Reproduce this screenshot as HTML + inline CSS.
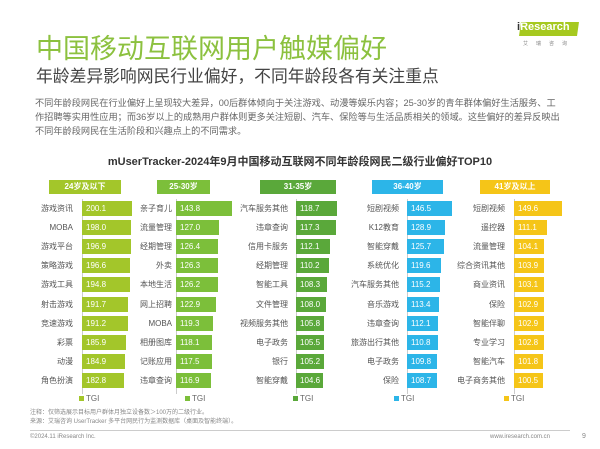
<!DOCTYPE html><html><head><meta charset="utf-8"><style>
*{margin:0;padding:0;box-sizing:border-box}
body{width:600px;height:449px;background:#fff;position:relative;overflow:hidden;font-family:"Liberation Sans","Noto Sans CJK SC",sans-serif;color:#555}
.a{position:absolute;white-space:nowrap}
.h{position:absolute;height:14px;color:#fff;font-size:8px;font-weight:bold;text-align:center;line-height:14px}
.l{position:absolute;font-size:8px;color:#555;text-align:right;width:70px;line-height:15px}
.b{position:absolute;height:15px;color:#fff;font-size:8px;line-height:15px;padding-left:4px;overflow:hidden}
.v{position:absolute;width:1px;background:#ccc}
.g{position:absolute;font-size:8px;color:#666}
.g i{display:inline-block;width:5px;height:5px;margin-right:2px;vertical-align:middle}
.c1 .b{left:82px;background:#a3c62a}.c1 .l{left:3px}
.c2 .b{left:176px;background:#7cbf3a}.c2 .l{left:102px}
.c3 .b{left:296px;background:#5aa83a}.c3 .l{left:218px}
.c4 .b{left:407px;background:#2cb5e8}.c4 .l{left:329px}
.c5 .b{left:514px;background:#f5c518}.c5 .l{left:435px}
</style></head><body>
<div class="a" style="left:36px;top:27px;font-size:27px;color:#8cc13f">中国移动互联网用户触媒偏好</div>
<div class="a" style="left:36px;top:63px;font-size:16.8px;color:#444">年龄差异影响网民行业偏好，不同年龄段各有关注重点</div>
<div class="a" style="left:35px;top:96px;font-size:9.2px;line-height:14px;color:#666">不同年龄段网民在行业偏好上呈现较大差异，00后群体倾向于关注游戏、动漫等娱乐内容；25-30岁的青年群体偏好生活服务、工<br>作招聘等实用性应用；而36岁以上的成熟用户群体则更多关注短剧、汽车、保险等与生活品质相关的领域。这些偏好的差异反映出<br>不同年龄段网民在生活阶段和兴趣点上的不同需求。</div>
<div class="a" style="left:520px;top:22px;width:58px;height:14px;background:#a6c91f;transform:skewX(-8deg)"></div>
<div class="a" style="left:517px;top:21px;font-size:11px;color:#fff;font-weight:bold"><span style="color:#333">i</span>Research</div>
<div class="a" style="left:523px;top:40px;font-size:5px;color:#888;letter-spacing:8px">艾瑞咨询</div>
<div class="a" style="left:0;width:600px;top:153px;text-align:center;font-size:11px;font-weight:bold;color:#333">mUserTracker-2024年9月中国移动互联网不同年龄段网民二级行业偏好TOP10</div>

<div class="h" style="left:49px;top:180px;width:72px;background:#a3c62a">24岁及以下</div>
<div class="h" style="left:157px;top:180px;width:53px;background:#7cbf3a">25-30岁</div>
<div class="h" style="left:260px;top:180px;width:76px;background:#5aa83a">31-35岁</div>
<div class="h" style="left:372px;top:180px;width:71px;background:#2cb5e8">36-40岁</div>
<div class="h" style="left:480px;top:180px;width:70px;background:#f5c518">41岁及以上</div>

<div class="v" style="left:82px;top:199px;height:195px"></div>
<div class="v" style="left:176px;top:199px;height:195px"></div>
<div class="v" style="left:296px;top:199px;height:195px"></div>
<div class="v" style="left:407px;top:199px;height:195px"></div>
<div class="v" style="left:514px;top:199px;height:195px"></div>

<div class="c1">
<div class="l" style="top:201px">游戏资讯</div><div class="b" style="top:201px;width:50px">200.1</div>
<div class="l" style="top:220px">MOBA</div><div class="b" style="top:220px;width:49px">198.0</div>
<div class="l" style="top:239px">游戏平台</div><div class="b" style="top:239px;width:48.5px">196.9</div>
<div class="l" style="top:258px">策略游戏</div><div class="b" style="top:258px;width:48px">196.6</div>
<div class="l" style="top:277px">游戏工具</div><div class="b" style="top:277px;width:47.5px">194.8</div>
<div class="l" style="top:297px">射击游戏</div><div class="b" style="top:297px;width:46px">191.7</div>
<div class="l" style="top:316px">竞速游戏</div><div class="b" style="top:316px;width:46px">191.2</div>
<div class="l" style="top:335px">彩票</div><div class="b" style="top:335px;width:43.5px">185.9</div>
<div class="l" style="top:354px">动漫</div><div class="b" style="top:354px;width:43px">184.9</div>
<div class="l" style="top:373px">角色扮演</div><div class="b" style="top:373px;width:42px">182.8</div>
</div>
<div class="c2">
<div class="l" style="top:201px">亲子育儿</div><div class="b" style="top:201px;width:56px">143.8</div>
<div class="l" style="top:220px">流量管理</div><div class="b" style="top:220px;width:43px">127.0</div>
<div class="l" style="top:239px">经期管理</div><div class="b" style="top:239px;width:42.4px">126.4</div>
<div class="l" style="top:258px">外卖</div><div class="b" style="top:258px;width:42.3px">126.3</div>
<div class="l" style="top:277px">本地生活</div><div class="b" style="top:277px;width:42.2px">126.2</div>
<div class="l" style="top:297px">网上招聘</div><div class="b" style="top:297px;width:39.7px">122.9</div>
<div class="l" style="top:316px">MOBA</div><div class="b" style="top:316px;width:37px">119.3</div>
<div class="l" style="top:335px">相册图库</div><div class="b" style="top:335px;width:36px">118.1</div>
<div class="l" style="top:354px">记账应用</div><div class="b" style="top:354px;width:35.5px">117.5</div>
<div class="l" style="top:373px">违章查询</div><div class="b" style="top:373px;width:35px">116.9</div>
</div>
<div class="c3">
<div class="l" style="top:201px">汽车服务其他</div><div class="b" style="top:201px;width:41px">118.7</div>
<div class="l" style="top:220px">违章查询</div><div class="b" style="top:220px;width:39.6px">117.3</div>
<div class="l" style="top:239px">信用卡服务</div><div class="b" style="top:239px;width:34.4px">112.1</div>
<div class="l" style="top:258px">经期管理</div><div class="b" style="top:258px;width:32.6px">110.2</div>
<div class="l" style="top:277px">智能工具</div><div class="b" style="top:277px;width:30.7px">108.3</div>
<div class="l" style="top:297px">文件管理</div><div class="b" style="top:297px;width:30.4px">108.0</div>
<div class="l" style="top:316px">视频服务其他</div><div class="b" style="top:316px;width:28.2px">105.8</div>
<div class="l" style="top:335px">电子政务</div><div class="b" style="top:335px;width:27.9px">105.5</div>
<div class="l" style="top:354px">银行</div><div class="b" style="top:354px;width:27.6px">105.2</div>
<div class="l" style="top:373px">智能穿戴</div><div class="b" style="top:373px;width:27px">104.6</div>
</div>
<div class="c4">
<div class="l" style="top:201px">短剧视频</div><div class="b" style="top:201px;width:45px">146.5</div>
<div class="l" style="top:220px">K12教育</div><div class="b" style="top:220px;width:38px">128.9</div>
<div class="l" style="top:239px">智能穿戴</div><div class="b" style="top:239px;width:36.7px">125.7</div>
<div class="l" style="top:258px">系统优化</div><div class="b" style="top:258px;width:34.3px">119.6</div>
<div class="l" style="top:277px">汽车服务其他</div><div class="b" style="top:277px;width:32.5px">115.2</div>
<div class="l" style="top:297px">音乐游戏</div><div class="b" style="top:297px;width:31.8px">113.4</div>
<div class="l" style="top:316px">违章查询</div><div class="b" style="top:316px;width:31.3px">112.1</div>
<div class="l" style="top:335px">旅游出行其他</div><div class="b" style="top:335px;width:30.8px">110.8</div>
<div class="l" style="top:354px">电子政务</div><div class="b" style="top:354px;width:30.4px">109.8</div>
<div class="l" style="top:373px">保险</div><div class="b" style="top:373px;width:30px">108.7</div>
</div>
<div class="c5">
<div class="l" style="top:201px">短剧视频</div><div class="b" style="top:201px;width:48px">149.6</div>
<div class="l" style="top:220px">遥控器</div><div class="b" style="top:220px;width:33px">111.1</div>
<div class="l" style="top:239px">流量管理</div><div class="b" style="top:239px;width:30.3px">104.1</div>
<div class="l" style="top:258px">综合资讯其他</div><div class="b" style="top:258px;width:30.2px">103.9</div>
<div class="l" style="top:277px">商业资讯</div><div class="b" style="top:277px;width:29.9px">103.1</div>
<div class="l" style="top:297px">保险</div><div class="b" style="top:297px;width:29.8px">102.9</div>
<div class="l" style="top:316px">智能伴聊</div><div class="b" style="top:316px;width:29.8px">102.9</div>
<div class="l" style="top:335px">专业学习</div><div class="b" style="top:335px;width:29.8px">102.8</div>
<div class="l" style="top:354px">智能汽车</div><div class="b" style="top:354px;width:29.4px">101.8</div>
<div class="l" style="top:373px">电子商务其他</div><div class="b" style="top:373px;width:29px">100.5</div>
</div>

<div class="g" style="left:79px;top:394px"><i style="background:#a3c62a"></i>TGI</div>
<div class="g" style="left:185px;top:394px"><i style="background:#7cbf3a"></i>TGI</div>
<div class="g" style="left:293px;top:394px"><i style="background:#5aa83a"></i>TGI</div>
<div class="g" style="left:394px;top:394px"><i style="background:#2cb5e8"></i>TGI</div>
<div class="g" style="left:504px;top:394px"><i style="background:#f5c518"></i>TGI</div>

<div class="a" style="left:30px;top:409px;font-size:6px;line-height:9px;color:#888">注释：仅筛选展示目标用户群体月独立设备数＞100万的二级行业。<br>来源：艾瑞咨询 UserTracker 多平台网民行为监测数据库（桌面及智能终端）。</div>
<div class="a" style="left:30px;top:430px;width:540px;height:1px;background:#ccc"></div>
<div class="a" style="left:30px;top:434px;font-size:6px;color:#888">©2024.11 iResearch Inc.</div>
<div class="a" style="left:490px;top:434px;font-size:6px;color:#888">www.iresearch.com.cn</div>
<div class="a" style="left:582px;top:433px;font-size:7px;color:#888">9</div>
</body></html>
